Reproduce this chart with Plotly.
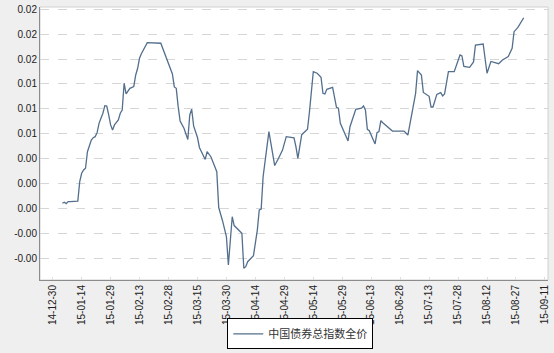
import plotly.graph_objects as go

dates = [
    "2015-01-04", "2015-01-05", "2015-01-06", "2015-01-07", "2015-01-08", "2015-01-12",
    "2015-01-13", "2015-01-14", "2015-01-15", "2015-01-16", "2015-01-17", "2015-01-18",
    "2015-01-19", "2015-01-20", "2015-01-21", "2015-01-22", "2015-01-23", "2015-01-24",
    "2015-01-25", "2015-01-26", "2015-01-27", "2015-01-28", "2015-01-29", "2015-01-30",
    "2015-01-31", "2015-02-02", "2015-02-03", "2015-02-04", "2015-02-05", "2015-02-06",
    "2015-02-08", "2015-02-10", "2015-02-11", "2015-02-12", "2015-02-13", "2015-02-14",
    "2015-02-15", "2015-02-17", "2015-02-24", "2015-02-26", "2015-02-27", "2015-02-28",
    "2015-03-02", "2015-03-03", "2015-03-04", "2015-03-05", "2015-03-06", "2015-03-08",
    "2015-03-10", "2015-03-11", "2015-03-12", "2015-03-13", "2015-03-15", "2015-03-16",
    "2015-03-19", "2015-03-20", "2015-03-22", "2015-03-25", "2015-03-26", "2015-03-28",
    "2015-03-30", "2015-03-31", "2015-04-02", "2015-04-03", "2015-04-07", "2015-04-08",
    "2015-04-09", "2015-04-10", "2015-04-13", "2015-04-15", "2015-04-16", "2015-04-17",
    "2015-04-18", "2015-04-21", "2015-04-22", "2015-04-24", "2015-04-26", "2015-04-28",
    "2015-04-30", "2015-05-04", "2015-05-05", "2015-05-06", "2015-05-08", "2015-05-11",
    "2015-05-12", "2015-05-14", "2015-05-16", "2015-05-18", "2015-05-19", "2015-05-20",
    "2015-05-21", "2015-05-24", "2015-05-26", "2015-05-27", "2015-05-28", "2015-05-30",
    "2015-06-01", "2015-06-02", "2015-06-05", "2015-06-08", "2015-06-09", "2015-06-10",
    "2015-06-11", "2015-06-12", "2015-06-15", "2015-06-16", "2015-06-17", "2015-06-18",
    "2015-06-19", "2015-06-24", "2015-06-29", "2015-06-30", "2015-07-02", "2015-07-04",
    "2015-07-06", "2015-07-07", "2015-07-09", "2015-07-10", "2015-07-13", "2015-07-14",
    "2015-07-15", "2015-07-17", "2015-07-19", "2015-07-20", "2015-07-21", "2015-07-23",
    "2015-07-26", "2015-07-29", "2015-07-30", "2015-07-31", "2015-08-03", "2015-08-05",
    "2015-08-06", "2015-08-10", "2015-08-12", "2015-08-14", "2015-08-18", "2015-08-20",
    "2015-08-23", "2015-08-25", "2015-08-26", "2015-08-28", "2015-08-31",
]

values = [
    0.00042, 0.00050, 0.00039, 0.00055, 0.00055, 0.00060,
    0.00215, 0.00283, 0.00309, 0.00323, 0.00456, 0.00496,
    0.00550, 0.00569, 0.00577, 0.00609, 0.00684, 0.00724,
    0.00765, 0.00826, 0.00823, 0.00751, 0.00671, 0.00631,
    0.00671, 0.00711, 0.00765, 0.00791, 0.01006, 0.00920,
    0.00965, 0.00980, 0.01072, 0.01126, 0.01209, 0.01245,
    0.01273, 0.01332, 0.01327, 0.01247, 0.01193, 0.01166,
    0.01080, 0.00976, 0.00965, 0.00818, 0.00703, 0.00644,
    0.00554, 0.00751, 0.00797, 0.00663, 0.00570, 0.00490,
    0.00394, 0.00456, 0.00414, 0.00296, 0.00008, -0.00100,
    -0.00227, -0.00454, -0.00066, -0.00137, -0.00199, -0.00480,
    -0.00467, -0.00427, -0.00378, -0.00173, -0.00012, -0.00004,
    0.00255, 0.00617, 0.00518, 0.00345, 0.00403, 0.00467,
    0.00577, 0.00568, 0.00496, 0.00403, 0.00593, 0.00636,
    0.00775, 0.01099, 0.01086, 0.01054, 0.00925, 0.00920,
    0.00957, 0.00973, 0.00813, 0.00805, 0.00684, 0.00617,
    0.00542, 0.00657, 0.00797, 0.00805, 0.00823, 0.00791,
    0.00636, 0.00625, 0.00518, 0.00609, 0.00617, 0.00705,
    0.00689, 0.00622, 0.00617, 0.00622, 0.00590, 0.00765,
    0.00925, 0.01107, 0.01072, 0.00932, 0.00901, 0.00815,
    0.00815, 0.00916, 0.00930, 0.00904, 0.00920, 0.01099,
    0.01099, 0.01233, 0.01225, 0.01141, 0.01134, 0.01177,
    0.01313, 0.01321, 0.01086, 0.01181, 0.01163, 0.01193,
    0.01221, 0.01287, 0.01420, 0.01454, 0.01532,
]

series_name = "中国债券总指数全价"

y_tickvals = [-0.004, -0.002, 0.000, 0.002, 0.004, 0.006, 0.008, 0.010, 0.012, 0.014, 0.016]
y_ticktext = ["-0.00", "-0.00", "0.00", "0.00", "0.00", "0.01", "0.01", "0.01", "0.02", "0.02", "0.02"]

x_tick_start = "2014-12-30"
x_tick_step_days = 15

fig = go.Figure()
fig.add_trace(go.Scatter(
    x=dates, y=values, mode="lines", name=series_name,
    line=dict(color="#536f8d", width=1.3),
))

fig.update_layout(
    width=554, height=353,
    margin=dict(l=40, r=6, t=7, b=73, autoexpand=False),
    paper_bgcolor="#efefef",
    plot_bgcolor="#ffffff",
    showlegend=True,
    legend=dict(
        xref="container", yref="container",
        x=0.542, y=0.01, xanchor="center", yanchor="bottom",
        orientation="h",
        bgcolor="#ffffff", bordercolor="#000000", borderwidth=1,
        font=dict(family="Noto Sans CJK SC", size=11, color="#333333"),
        itemwidth=30, tracegroupgap=0,
    ),
    font=dict(family="Liberation Sans, Arial", size=10, color="#222222"),
)

fig.update_xaxes(
    type="date", automargin=False,
    range=["2014-12-23 10:00", "2015-09-12 14:00"],
    tick0=x_tick_start, dtick=x_tick_step_days * 86400000,
    tickformat="%y-%m-%d", tickangle=-90,
    showgrid=False, zeroline=False,
    showline=True, linecolor="#8c8c8c", linewidth=1,
    ticks="inside", ticklen=3, tickcolor="#dddddd",
    tickfont=dict(size=10),
)
fig.update_yaxes(
    automargin=False,
    range=[-0.00574, 0.01618],
    tickvals=y_tickvals, ticktext=y_ticktext,
    showgrid=True, gridcolor="#d6d6d6", griddash="dash", gridwidth=1,
    zeroline=False,
    showline=True, linecolor="#8c8c8c", linewidth=1,
    ticks="", tickfont=dict(size=10),
)

fig.add_shape(type="rect", xref="paper", yref="paper", x0=0, y0=0, x1=1, y1=1,
              line=dict(color="#d0d0d0", width=1), layer="below")

fig.write_html("out.html")
